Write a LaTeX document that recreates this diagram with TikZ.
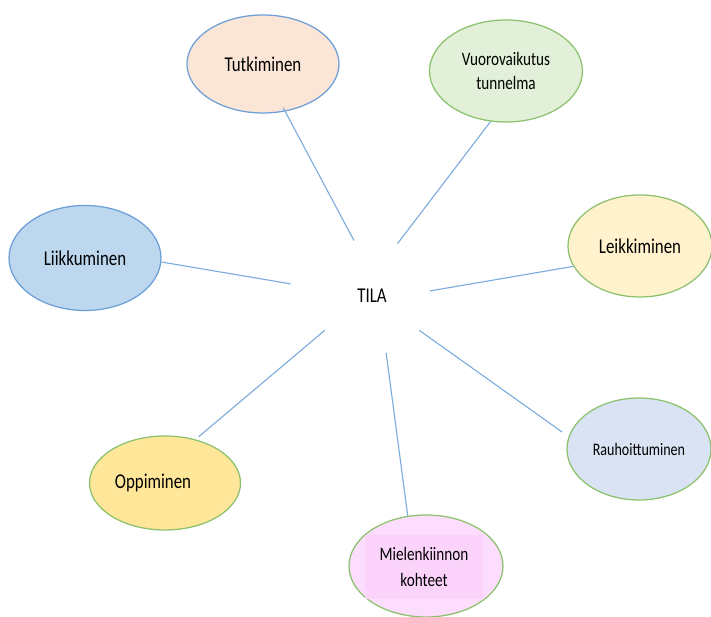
\documentclass[tikz,border=0pt]{standalone}
\usepackage{fontspec}
\setmainfont{Carlito}[FakeStretch=0.8]
\usetikzlibrary{shapes.geometric}
\definecolor{linkblue}{RGB}{125,172,222}
\definecolor{edgeblue}{RGB}{110,160,215}
\definecolor{edgegreen}{RGB}{140,194,110}
\definecolor{peach}{RGB}{251,229,214}
\definecolor{mint}{RGB}{226,240,217}
\definecolor{skyblue}{RGB}{189,215,238}
\definecolor{cream}{RGB}{255,242,204}
\definecolor{paleblue}{RGB}{218,227,243}
\definecolor{butter}{RGB}{255,230,153}
\definecolor{pinkout}{RGB}{253,221,253}
\definecolor{pinkin}{RGB}{251,211,251}

\begin{document}
\begin{tikzpicture}[every node/.style={font=\fontsize{15}{18}\selectfont},
  bubble/.style={ellipse, line width=0.9pt, inner sep=0pt, align=center},
  link/.style={linkblue, line width=0.8pt}]
\useasboundingbox (0,0) rectangle (17.775,15.425);
\node[bubble, draw=edgeblue, fill=peach, minimum width=3.8cm, minimum height=2.45cm] (tut) at (6.575,13.825) {Tutkiminen};
\node[bubble, draw=edgegreen, fill=mint, minimum width=3.825cm, minimum height=2.55cm, font=\fontsize{13.5}{17.5}\selectfont] (vuo) at (12.65,13.65) {Vuorovaikutus\\tunnelma};
\node[bubble, draw=edgeblue, fill=skyblue, minimum width=3.8cm, minimum height=2.625cm] (liik) at (2.125,8.975) {Liikkuminen};
\node[bubble, draw=edgegreen, fill=cream, minimum width=3.6cm, minimum height=2.55cm] (leik) at (16.0,9.275) {Leikkiminen};
\node[bubble, draw=edgegreen, fill=paleblue, minimum width=3.6cm, minimum height=2.55cm, font=\fontsize{12.5}{15}\selectfont] (rauh) at (15.975,4.2) {Rauhoittuminen};
\node[bubble, draw=edgegreen, fill=butter, minimum width=3.775cm, minimum height=2.35cm] (opp) at (4.125,3.35) {Oppiminen\hspace{0.6cm}};
\node[bubble, draw=edgegreen, fill=pinkout, minimum width=3.85cm, minimum height=2.55cm] (miel) at (10.65,1.275) {};
\node[fill=pinkin, minimum width=2.95cm, minimum height=1.6cm, align=center, font=\fontsize{13.5}{19}\selectfont] (miellbl) at (10.6,1.25) {Mielenkiinnon\\kohteet};
\node[circle, minimum size=2.9cm] (tila) at (9.3,8.025) {TILA};
\draw[link, shorten >=-3pt] (tila.108) -- (tut.295);
\draw[link] (tila.64) -- (vuo.253);
\draw[link, shorten <=0.6cm] (tila.172) -- (liik.-3);
\draw[link] (tila.5) -- (leik.197);
\draw[link, shorten >=0.2cm] (tila.-36) -- (rauh.170);
\draw[link, shorten >=3pt] (tila.216) -- (opp.55);
\draw[link] (tila.284) -- (miel.110);
\end{tikzpicture}
\end{document}
